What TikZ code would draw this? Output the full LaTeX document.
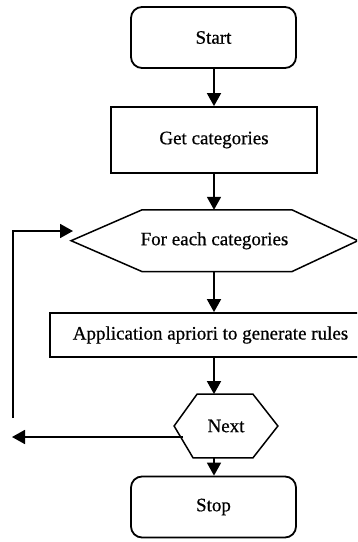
\documentclass[tikz,border=0pt]{standalone}
\usepackage{fontspec}
\setmainfont{Liberation Serif}[FakeBold=0.6]
\usetikzlibrary{arrows.meta}
\begin{document}
\begin{tikzpicture}[x=1pt,y=-1pt,
  line width=1.8pt,
  txt/.style={font=\fontsize{19}{22}\selectfont, inner sep=0pt},
  termbox/.style={txt, draw, rounded corners=11pt, minimum width=165pt, minimum height=61pt},
  procbox/.style={txt, draw, minimum height=66pt},
  hexnode/.style={txt},
  arr/.style={-{Triangle[length=13pt,width=14pt]}}]
\useasboundingbox (0,0) rectangle (357,542);
\clip (0,0) rectangle (357,542);
% nodes
\node[termbox] (start) at (213.5,37.5) {Start};
\node[procbox, minimum width=206pt] (get) at (214,140) {Get categories};
\node[hexnode, minimum width=285pt, minimum height=60pt] (fe) at (214.5,240.7) {For each categories};
\draw[line width=1.5pt] (fe.west) -- ([xshift=71pt]fe.north west) -- ([xshift=-66pt]fe.north east)
   -- (fe.east) -- ([xshift=-66pt]fe.south east) -- ([xshift=71pt]fe.south west) -- cycle;
\node[procbox, minimum width=321pt, minimum height=44pt] (app) at (210.5,335) {Application apriori to generate rules};
\node[hexnode, minimum width=102pt, minimum height=62pt] (next) at (226,426) {Next};
\draw[line width=1.5pt] (next.west) -- ([xshift=23pt]next.north west) -- ([xshift=-25pt]next.north east)
   -- (next.east) -- ([xshift=-25pt]next.south east) -- ([xshift=19pt]next.south west) -- cycle;
\node[termbox] (stop) at (213.5,507) {Stop};
% connectors
\coordinate (col) at (214,0);
\draw[arr] (col |- start.south) -- (col |- get.north);
\draw[arr] (col |- get.south) -- (col |- fe.north);
\draw[arr] (col |- fe.south) -- (col |- app.north);
\draw[arr] (col |- app.south) -- (col |- next.north);
\draw[arr] (col |- next.south) -- (col |- stop.north);
\coordinate (nout) at (183,437);
\coordinate (lend) at (12,437);
\draw[arr] (nout) -- (lend);
\coordinate (vbot) at (13,418);
\coordinate (vtop) at (13,231);
\coordinate (fein) at (73,231);
\draw[arr] (vbot) -- (vtop) -- (fein);
\end{tikzpicture}
\end{document}
